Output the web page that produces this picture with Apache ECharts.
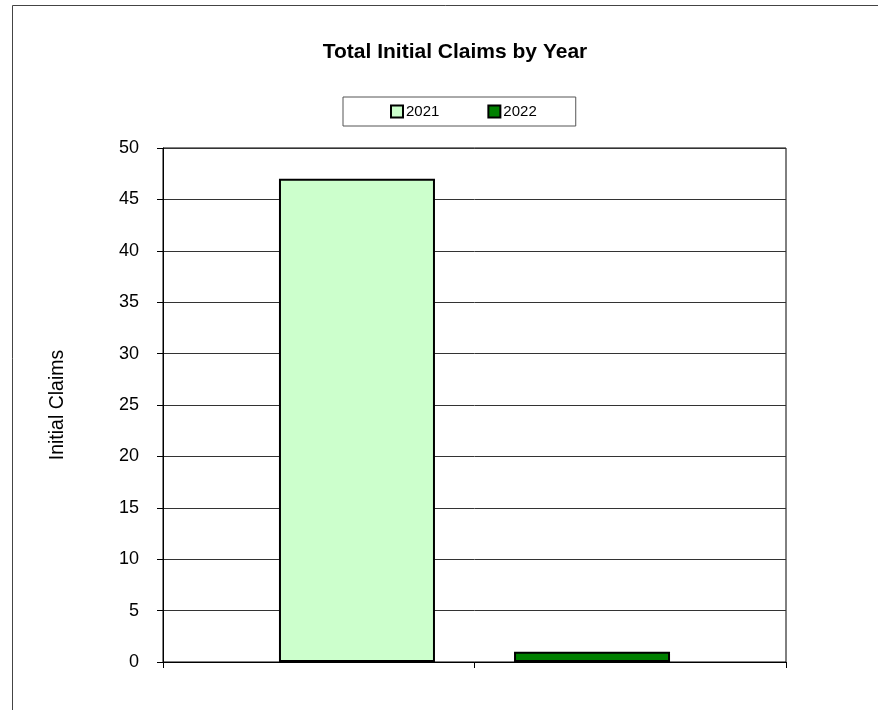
<!DOCTYPE html>
<html>
<head>
<meta charset="utf-8">
<script src="https://cdn.jsdelivr.net/npm/echarts@6/dist/echarts.min.js"></script>
<style>html,body{margin:0;padding:0;background:#fff;}#c{width:878px;height:710px;}</style>
</head>
<body>
<div id="c"></div>
<script>
const categories = ['', ''];
const seriesNames = ['2021', '2022'];
const values2021 = [47, null];
const values2022 = [null, 1];
const yTicks = {min: 0, max: 50, interval: 5};

const chart = echarts.init(document.getElementById('c'), null, {renderer: 'canvas'});
const font = 'Liberation Sans, Arial, sans-serif';
chart.setOption({
  animation: false,
  backgroundColor: '#fff',
  textStyle: {fontFamily: font},
  graphic: [{
    type: 'rect', silent: true, z: -1,
    shape: {x: 12.5, y: 5.5, width: 900, height: 800},
    style: {fill: 'none', stroke: '#444', lineWidth: 1}
  }],
  title: {
    text: 'Total Initial Claims by Year',
    left: 450, top: 37, textAlign: 'center',
    textStyle: {fontFamily: font, fontWeight: 'bold', fontSize: 21, color: '#000'}
  },
  legend: {
    left: 343, top: 97,
    padding: [7, 39, 7, 47],
    itemGap: 48, itemWidth: 12, itemHeight: 12,
    borderColor: '#555', borderWidth: 1,
    icon: 'rect',
    data: seriesNames,
    textStyle: {fontFamily: font, fontSize: 15, color: '#000', padding: [0, 0, 0, -2]}
  },
  grid: {left: 163, top: 148, right: 92, bottom: 48, show: true, borderColor: '#000', borderWidth: 1},
  xAxis: {
    type: 'category', data: categories, boundaryGap: true,
    axisLine: {lineStyle: {color: '#000', width: 1}},
    axisTick: {show: true, length: 6, lineStyle: {color: '#000'}},
    axisLabel: {show: false},
    splitLine: {show: false}
  },
  yAxis: {
    type: 'value', min: yTicks.min, max: yTicks.max, interval: yTicks.interval,
    name: 'Initial Claims', nameLocation: 'middle', nameGap: 95,
    nameTextStyle: {fontFamily: font, fontSize: 19.5, color: '#000'},
    axisLine: {show: true, lineStyle: {color: '#000', width: 1}},
    axisTick: {show: true, length: 6, inside: false, lineStyle: {color: '#000'}},
    axisLabel: {fontFamily: font, fontSize: 18, color: '#000', margin: 24},
    splitLine: {show: true, lineStyle: {color: '#333', width: 1}}
  },
  series: [{
    name: seriesNames[0], type: 'bar', data: values2021,
    barWidth: 156, barGap: '-149%',
    itemStyle: {color: '#CCFFCC', borderColor: '#000', borderWidth: 2}
  }, {
    name: seriesNames[1], type: 'bar', data: values2022,
    barWidth: 156, barGap: '-149%',
    itemStyle: {color: '#008000', borderColor: '#000', borderWidth: 2}
  }]
});
</script>
</body>
</html>
